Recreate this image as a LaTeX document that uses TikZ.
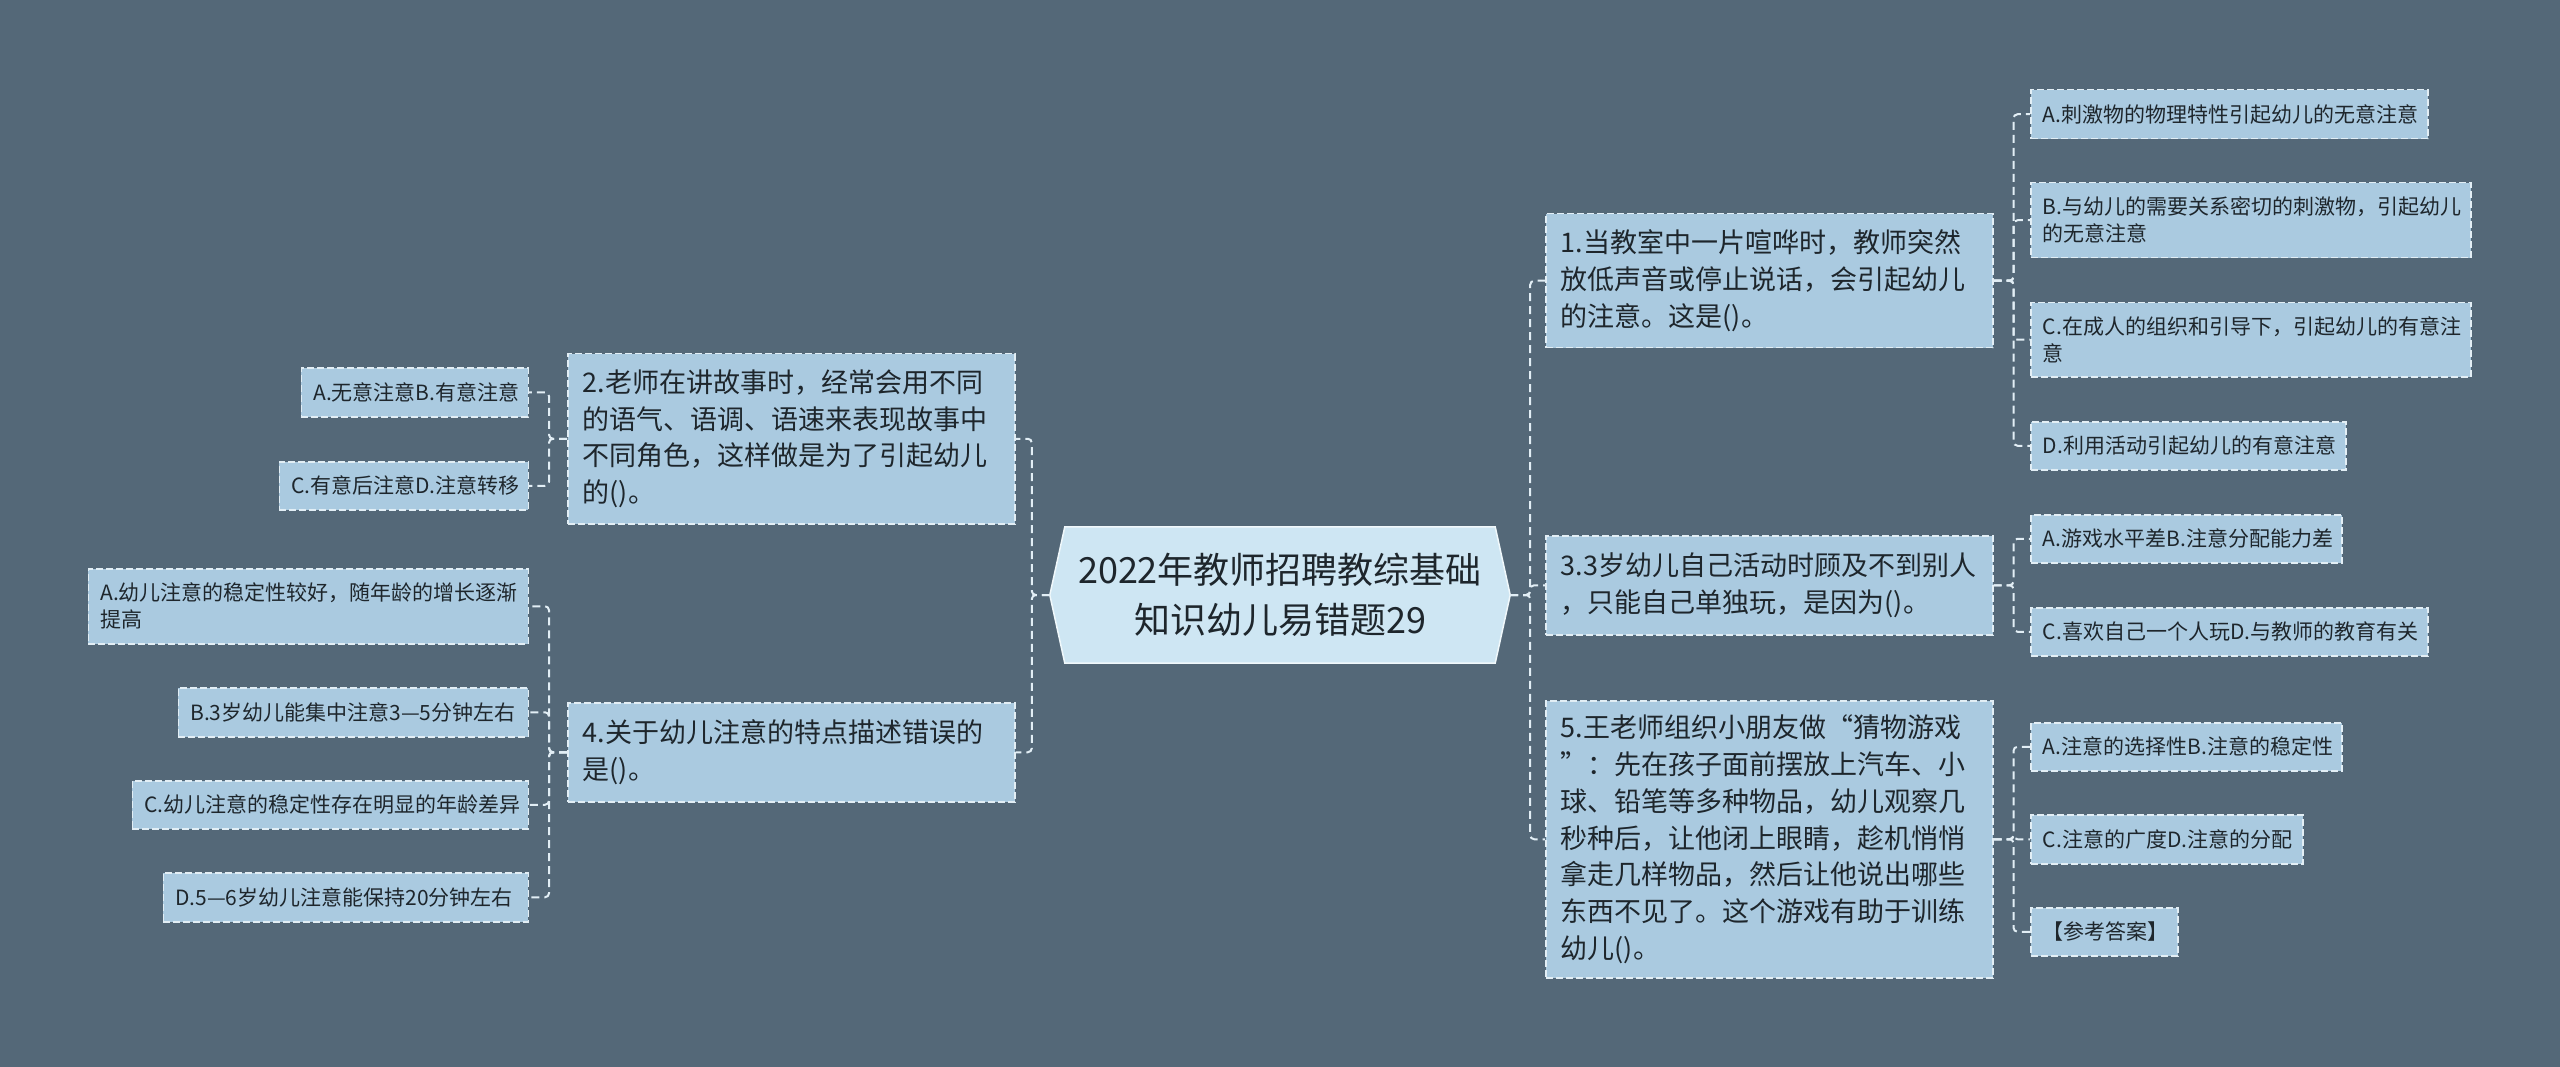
\documentclass[tikz,border=0pt]{standalone}
\usepackage{fontspec}
\setmainfont{Noto Sans CJK SC}
\usetikzlibrary{calc}
\pgfdeclarelayer{bg}
\pgfsetlayers{bg,main}
\definecolor{bgc}{HTML}{546878}
\definecolor{boxc}{HTML}{AACAE0}
\definecolor{cenc}{HTML}{CEE6F3}
\definecolor{linec}{HTML}{E2EEF5}
\definecolor{txtc}{HTML}{1E262C}
\begin{document}
\begin{tikzpicture}[x=1pt,y=-1pt,
  leaf/.style={draw=linec, line width=1.5pt, dash pattern=on 7pt off 3pt, fill=boxc, text=txtc,
    inner xsep=12pt, inner ysep=0pt, align=left, font=\fontsize{21}{26.7}\selectfont},
  mid/.style={leaf, inner xsep=15pt, font=\fontsize{27}{36.7}\selectfont},
  conn/.style={draw=linec, line width=2pt, dash pattern=on 8pt off 5pt, rounded corners=4pt},
]
\useasboundingbox (0,0) rectangle (2560,1067);
\begin{pgfonlayer}{bg}
\fill[bgc] (0,0) rectangle (2560,1067);
\end{pgfonlayer}

% central
\node[font=\fontsize{36}{50}\selectfont, text=txtc, align=center, minimum width=460pt,
  minimum height=136pt, inner sep=0pt] (c) at (1280,595) {2022年教师招聘教综基础\\知识幼儿易错题29};
\begin{pgfonlayer}{bg}
\filldraw[fill=cenc, draw=white!70!cenc, line width=1.5pt] (c.west) -- ([xshift=15pt]c.north west) -- ([xshift=-15pt]c.north east)
  -- (c.east) -- ([xshift=-15pt]c.south east) -- ([xshift=15pt]c.south west) -- cycle;
\end{pgfonlayer}

% right mid nodes
\node[mid, anchor=north west, text width=417pt, minimum height=134pt] (n1) at (1545,213)
  {1.当教室中一片喧哗时，教师突然\\放低声音或停止说话，会引起幼儿\\的注意。这是()。};
\node[mid, anchor=north west, text width=417pt, minimum height=99pt] (n3) at (1545,535)
  {3.3岁幼儿自己活动时顾及不到别人\\，只能自己单独玩，是因为()。};
\node[mid, anchor=north west, text width=417pt, minimum height=277pt] (n5) at (1545,700)
  {5.王老师组织小朋友做“猜物游戏\\”：先在孩子面前摆放上汽车、小\\球、铅笔等多种物品，幼儿观察几\\秒种后，让他闭上眼睛，趁机悄悄\\拿走几样物品，然后让他说出哪些\\东西不见了。这个游戏有助于训练\\幼儿()。};

% left mid nodes
\node[mid, anchor=north west, text width=417pt, minimum height=170pt] (n2) at (567,353)
  {2.老师在讲故事时，经常会用不同\\的语气、语调、语速来表现故事中\\不同角色，这样做是为了引起幼儿\\的()。};
\node[mid, anchor=north west, text width=417pt, minimum height=99pt] (n4) at (567,702)
  {4.关于幼儿注意的特点描述错误的\\是()。};

% right leaves
\node[leaf, anchor=north west, text width=373pt, minimum height=49pt] (r1a) at (2030,89) {A.刺激物的物理特性引起幼儿的无意注意};
\node[leaf, anchor=north west, text width=416pt, minimum height=75pt] (r1b) at (2030,182) {B.与幼儿的需要关系密切的刺激物，引起幼儿\\的无意注意};
\node[leaf, anchor=north west, text width=416pt, minimum height=74pt] (r1c) at (2030,302) {C.在成人的组织和引导下，引起幼儿的有意注\\意};
\node[leaf, anchor=north west, text width=291pt, minimum height=48pt] (r1d) at (2030,421) {D.利用活动引起幼儿的有意注意};

\node[leaf, anchor=north west, text width=287pt, minimum height=48pt] (r3a) at (2030,514) {A.游戏水平差B.注意分配能力差};
\node[leaf, anchor=north west, text width=373pt, minimum height=48pt] (r3c) at (2030,607) {C.喜欢自己一个人玩D.与教师的教育有关};

\node[leaf, anchor=north west, text width=287pt, minimum height=48pt] (r5a) at (2030,722) {A.注意的选择性B.注意的稳定性};
\node[leaf, anchor=north west, text width=248pt, minimum height=49pt] (r5c) at (2030,814) {C.注意的广度D.注意的分配};
\node[leaf, anchor=north west, text width=123pt, minimum height=48pt] (r5d) at (2030,907) {【参考答案】};

% left leaves
\node[leaf, anchor=north east, text width=203pt, minimum height=49pt] (l2a) at (529,367) {A.无意注意B.有意注意};
\node[leaf, anchor=north east, text width=225pt, minimum height=48pt] (l2c) at (529,461) {C.有意后注意D.注意转移};

\node[leaf, anchor=north east, text width=416pt, minimum height=75pt] (l4a) at (529,568) {A.幼儿注意的稳定性较好，随年龄的增长逐渐\\提高};
\node[leaf, anchor=north east, text width=326pt, minimum height=49pt] (l4b) at (529,687) {B.3岁幼儿能集中注意3—5分钟左右};
\node[leaf, anchor=north east, text width=372pt, minimum height=48pt] (l4c) at (529,780) {C.幼儿注意的稳定性存在明显的年龄差异};
\node[leaf, anchor=north east, text width=341pt, minimum height=49pt] (l4d) at (529,872) {D.5—6岁幼儿注意能保持20分钟左右};

% connectors
\draw[conn] (c.east) -- ++(20,0) |- (n1.west);
\draw[conn] (c.east) -- ++(20,0) |- (n3.west);
\draw[conn] (c.east) -- ++(20,0) |- (n5.west);
\draw[conn] (c.west) -- ++(-18,0) |- (n2.east);
\draw[conn] (c.west) -- ++(-18,0) |- (n4.east);

\draw[conn] (n1.east) -- ++(20,0) |- (r1a.west);
\draw[conn] (n1.east) -- ++(20,0) |- (r1b.west);
\draw[conn] (n1.east) -- ++(20,0) |- (r1c.west);
\draw[conn] (n1.east) -- ++(20,0) |- (r1d.west);

\draw[conn] (n3.east) -- ++(20,0) |- (r3a.west);
\draw[conn] (n3.east) -- ++(20,0) |- (r3c.west);

\draw[conn] (n5.east) -- ++(20,0) |- (r5a.west);
\draw[conn] (n5.east) -- ++(20,0) |- (r5c.west);
\draw[conn] (n5.east) -- ++(20,0) |- (r5d.west);

\draw[conn] (n2.west) -- ++(-18,0) |- (l2a.east);
\draw[conn] (n2.west) -- ++(-18,0) |- (l2c.east);

\draw[conn] (n4.west) -- ++(-18,0) |- (l4a.east);
\draw[conn] (n4.west) -- ++(-18,0) |- (l4b.east);
\draw[conn] (n4.west) -- ++(-18,0) |- (l4c.east);
\draw[conn] (n4.west) -- ++(-18,0) |- (l4d.east);
\end{tikzpicture}
\end{document}
